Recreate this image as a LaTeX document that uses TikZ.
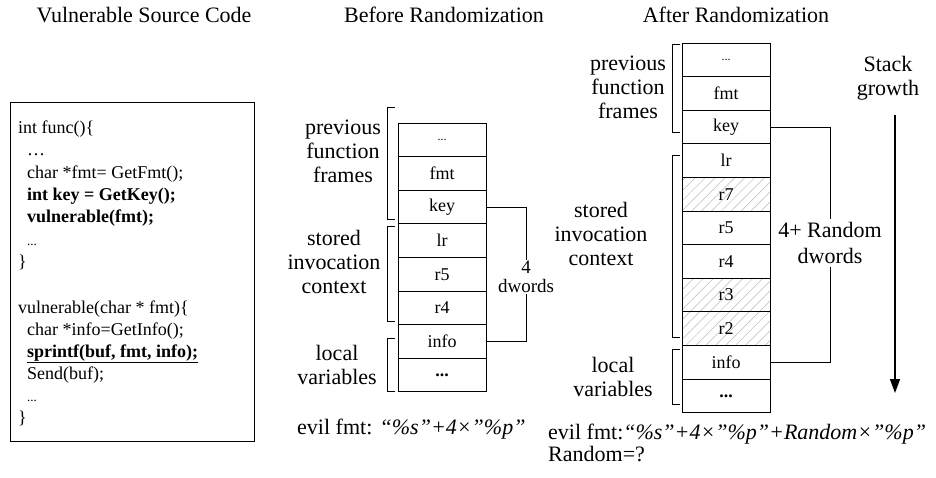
\documentclass[tikz,border=0pt]{standalone}
\usepackage{fontspec}
\setmainfont{Liberation Serif}
\usetikzlibrary{patterns.meta,arrows.meta}
\begin{document}
\begin{tikzpicture}[x=1pt,y=-1pt,
  cell/.style={draw, line width=0.9pt, minimum width=88pt, minimum height=33.6pt, inner sep=0pt, font=\fontsize{18}{20}\selectfont},
  hatch/.style={cell, pattern={Lines[angle=45,distance=7pt,line width=0.5pt]}, pattern color=gray!55},
  lbl/.style={align=center, font=\fontsize{22}{24}\selectfont, inner sep=0pt},
  title/.style={font=\fontsize{22}{25}\selectfont, anchor=base, inner sep=0pt},
  codeln/.style={anchor=base west, inner sep=0pt, font=\fontsize{18}{22}\selectfont},
  brk/.style={line width=0.9pt},
  conn/.style={line width=0.9pt},
  evil/.style={anchor=base west, inner sep=0pt, font=\fontsize{22}{22}\selectfont}]
\useasboundingbox (0,0) rectangle (936,477);

% titles
\node[title] (t1) at (144,22) {Vulnerable Source Code};
\node[title] (t2) at (444,22) {Before Randomization};
\node[title] (t3) at (736,22) {After Randomization};

% code box
\node[draw, line width=0.9pt, minimum width=244pt, minimum height=339pt, anchor=north west, inner sep=0pt] (codebox) at (10,102) {};
\node[codeln] (c1) at (18,133) {int func()\{};
\node[codeln] (c2) at (27,155) {…};
\node[codeln] (c3) at (27,178) {char *fmt= GetFmt();};
\node[codeln] (c4) at (27,200) {\textbf{int key = GetKey();}};
\node[codeln] (c5) at (27,222) {\textbf{vulnerable(fmt);}};
\node[codeln] (c6) at (27,245) {{\fontsize{13}{13}\selectfont ...}};
\node[codeln] (c7) at (18,267) {\}};
\node[codeln] (c8) at (18,313) {vulnerable(char * fmt)\{};
\node[codeln] (c9) at (27,335) {char *info=GetInfo();};
\node[codeln] (c10) at (27,357) {\underline{\textbf{sprintf(buf, fmt, info);}}};
\node[codeln] (c11) at (27,379) {Send(buf);};
\node[codeln] (c12) at (27,401) {{\fontsize{13}{13}\selectfont ...}};
\node[codeln] (c13) at (18,423) {\}};

% before stack
\node[cell] (b1) at (442,139.8) {{\fontsize{12}{12}\selectfont ...}};
\node[cell] (b2) at (442,173.4) {fmt};
\node[cell] (b3) at (442,207.0) {key};
\node[cell] (b4) at (442,240.6) {lr};
\node[cell] (b5) at (442,274.2) {r5};
\node[cell] (b6) at (442,307.8) {r4};
\node[cell] (b7) at (442,341.4) {info};
\node[cell] (b8) at (442,375.0) {\textbf{...}};

\draw[brk] (395,107) -- (387,107) -- (387,219) -- (395,219);
\draw[brk] (395,226) -- (387,226) -- (387,321) -- (395,321);
\draw[brk] (395,338) -- (387,338) -- (387,391) -- (395,391);

\node[lbl] (bl1) at (343,151) {previous\\function\\frames};
\node[lbl] (bl2) at (334,262) {stored\\invocation\\context};
\node[lbl] (bl3) at (337,365) {local\\variables};

\draw[conn] (b3.east) -- ++(40,0) |- (b7.east);
\node[fill=white, align=center, font=\fontsize{19}{19}\selectfont, inner sep=1.5pt] (bd) at (526,277) {4\\dwords};

\node[evil] (ev1) at (297,434) {evil fmt: \textit{“\%s”+4×”\%p”}};

% after stack
\node[cell] (a1) at (726,59.8) {{\fontsize{12}{12}\selectfont ...}};
\node[cell] (a2) at (726,93.4) {fmt};
\node[cell] (a3) at (726,127.0) {key};
\node[cell] (a4) at (726,160.6) {lr};
\node[hatch] (a5) at (726,194.2) {r7};
\node[cell] (a6) at (726,227.8) {r5};
\node[cell] (a7) at (726,261.4) {r4};
\node[hatch] (a8) at (726,295.0) {r3};
\node[hatch] (a9) at (726,328.6) {r2};
\node[cell] (a10) at (726,362.2) {info};
\node[cell] (a11) at (726,395.8) {\textbf{...}};

\draw[brk] (680,44) -- (672,44) -- (672,132) -- (680,132);
\draw[brk] (680,155) -- (672,155) -- (672,337) -- (680,337);
\draw[brk] (680,349) -- (672,349) -- (672,404) -- (680,404);

\node[lbl] (al1) at (628,87) {previous\\function\\frames};
\node[lbl] (al2) at (601,234) {stored\\invocation\\context};
\node[lbl] (al3) at (613,377) {local\\variables};

\draw[conn] (a3.east) -- ++(60,0) |- (a10.east);
\node[fill=white, align=center, font=\fontsize{22}{26}\selectfont, inner sep=3pt] (ad) at (830,243) {4+ Random\\dwords};

% stack growth
\node[lbl] (sg) at (888,78) {Stack\\growth};
\coordinate (sgt) at (895,115);
\coordinate (sgb) at (895,393);
\draw[line width=1.4pt, -{Triangle[length=14pt,width=10pt]}] (sgt) -- (sgb);

\node[evil] (ev2) at (548,439) {evil fmt:\textit{“\%s”+4×”\%p”+Random×”\%p”}};
\node[evil] (ev3) at (548,461) {Random=?};
\end{tikzpicture}
\end{document}
